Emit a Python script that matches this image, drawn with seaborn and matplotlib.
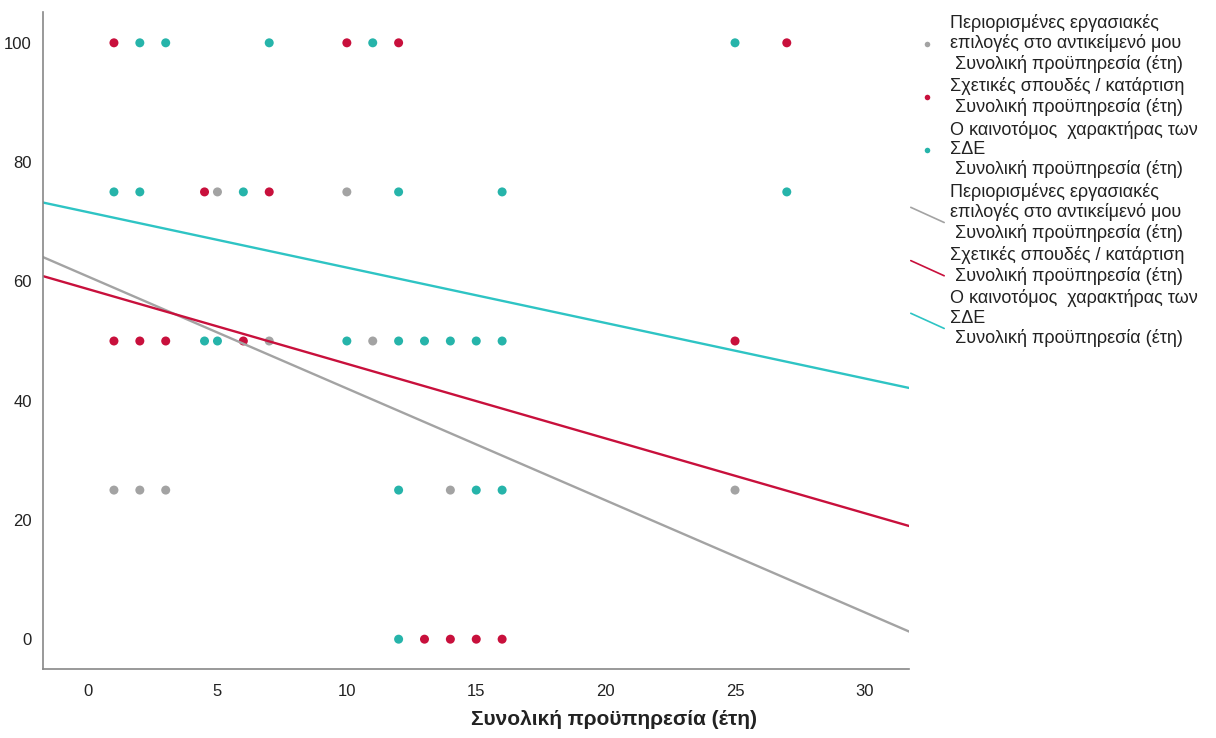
import numpy as np
import pandas as pd
import matplotlib
matplotlib.use('Agg')
import matplotlib.pyplot as plt
import seaborn as sns
from matplotlib.lines import Line2D
from matplotlib.legend_handler import HandlerLine2D

# series labels (legend text, as in the SPSS output)
lbl_grey = 'Περιορισμένες εργασιακές\nεπιλογές στο αντικείμενό μου\n Συνολική προϋπηρεσία (έτη)'
lbl_red = 'Σχετικές σπουδές / κατάρτιση\n Συνολική προϋπηρεσία (έτη)'
lbl_cyan = 'Ο καινοτόμος  χαρακτήρας των\nΣΔΕ\n Συνολική προϋπηρεσία (έτη)'

# points (x = years, y = score)
grey_x = [5, 10, 7, 11, 1, 2, 3, 14, 25]
grey_y = [75, 75, 50, 50, 25, 25, 25, 25, 25]

red_x = [1, 10, 12, 27, 4.5, 7, 1, 2, 3, 6, 25, 13, 14, 15, 16]
red_y = [100, 100, 100, 100, 75, 75, 50, 50, 50, 50, 50, 0, 0, 0, 0]

cyan_x = [2, 3, 7, 11, 25, 1, 2, 6, 12, 16, 27, 4.5, 5, 10, 12, 13, 14, 15, 16, 12, 15, 16, 12]
cyan_y = [100, 100, 100, 100, 100, 75, 75, 75, 75, 75, 75, 50, 50, 50, 50, 50, 50, 50, 50, 25, 25, 25, 0]

# fit lines (intercept, slope)
fit_intercept = [60.8, 58.7, 71.6]
fit_slope = [-1.876, -1.252, -0.929]

labels = [lbl_grey, lbl_red, lbl_cyan]
colors = ['#a3a3a3', '#c8103c', '#2ec4c4']
pt_colors = ['#a3a3a3', '#c8103c', '#26b4aa']

pts = pd.concat([
    pd.DataFrame({'x': grey_x, 'y': grey_y, 'g': lbl_grey}),
    pd.DataFrame({'x': red_x, 'y': red_y, 'g': lbl_red}),
    pd.DataFrame({'x': cyan_x, 'y': cyan_y, 'g': lbl_cyan}),
])

xlim = (-1.74, 31.74)
xs = np.array(xlim)
fits = pd.concat([
    pd.DataFrame({'x': xs, 'y': fit_intercept[i] + fit_slope[i] * xs, 'g': labels[i]})
    for i in range(3)
])

sns.set_style('white')
plt.rcParams['font.family'] = ['Liberation Sans', 'DejaVu Sans']

fig = plt.figure(figsize=(12.16, 7.38), dpi=100)
ax = fig.add_axes([0.0354, 0.0935, 0.7125, 0.8905])

sns.scatterplot(data=pts, x='x', y='y', hue='g', hue_order=labels,
                palette=pt_colors, s=42, linewidth=0, ax=ax, legend=False)
sns.lineplot(data=fits, x='x', y='y', hue='g', hue_order=labels,
             palette=colors, linewidth=1.7, ax=ax, legend=False)

ax.set_xlim(*xlim)
ax.set_ylim(-5.0, 105.2)
ax.set_xticks([0, 5, 10, 15, 20, 25, 30])
ax.set_yticks([0, 20, 40, 60, 80, 100])
ax.tick_params(length=0, labelsize=12, colors='#222222', pad=8)
ax.tick_params(axis='x', pad=11)
for side in ['top', 'right']:
    ax.spines[side].set_visible(False)
for side in ['left', 'bottom']:
    ax.spines[side].set_color('#888888')
    ax.spines[side].set_linewidth(1.2)
ax.set_ylabel('')
ax.set_xlabel('')

fig.text(0.505, 0.012, 'Συνολική προϋπηρεσία (έτη)', ha='center', va='bottom',
         fontsize=15, fontweight='bold', color='#222222')


# SPSS draws the fit-line legend keys as short diagonal strokes
class DiagLine(HandlerLine2D):
    def create_artists(self, legend, orig_handle, xdescent, ydescent,
                       width, height, fontsize, trans):
        ln = Line2D([-xdescent, width - xdescent],
                    [height * 0.9 - ydescent, -height * 0.3 - ydescent],
                    color=orig_handle.get_color(), linewidth=1.2)
        ln.set_transform(trans)
        return [ln]


dot_handles = [Line2D([], [], marker='o', linestyle='none', markersize=4,
                      markerfacecolor=c, markeredgewidth=0) for c in pt_colors]
line_handles = [Line2D([], [], color=c, linewidth=1.2) for c in colors]

leg = fig.legend(dot_handles + line_handles, labels + labels,
                 loc='upper left', bbox_to_anchor=(0.749, 0.981),
                 frameon=False, fontsize=13, handlelength=1.85,
                 handletextpad=0.3, labelspacing=0.26,
                 borderpad=0, borderaxespad=0,
                 handler_map={lh: DiagLine() for lh in line_handles})
for t in leg.get_texts():
    t.set_color('#222222')
    t.set_linespacing(1.17)

fig.savefig('out.png', dpi=100)
